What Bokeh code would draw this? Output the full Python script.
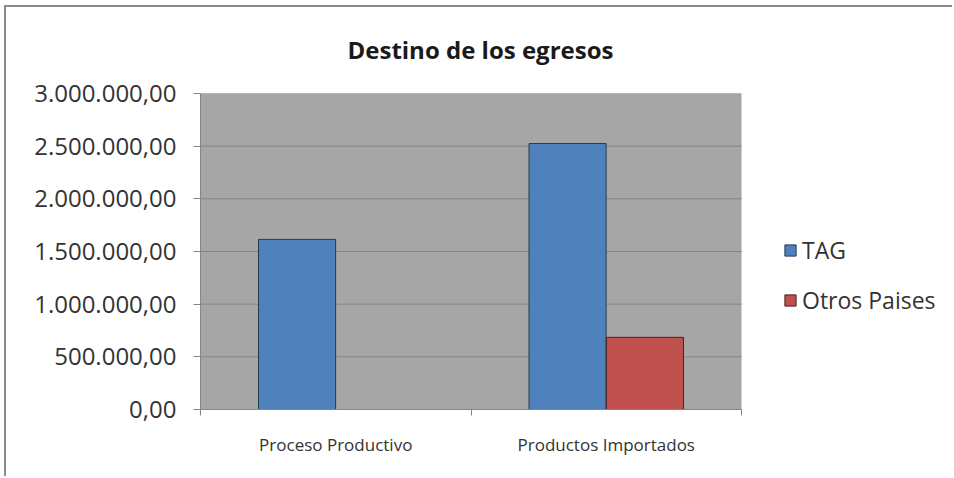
from bokeh.plotting import figure
from bokeh.models import (FixedTicker, Legend, LegendItem, ColumnDataSource,
                          Range1d, CDSView, BooleanFilter, BoxAnnotation)
from bokeh.transform import dodge
from bokeh.embed import file_html
from bokeh.resources import INLINE

title_text = "Destino de los egresos"
categories = ["Proceso Productivo", "Productos Importados"]
series_names = ["TAG", "Otros Paises"]
tag_values = [1615000, 2525000]
otros_values = [0, 685000]
y_ticks = [0, 500000, 1000000, 1500000, 2000000, 2500000, 3000000]
y_tick_labels = ["0,00", "500.000,00", "1.000.000,00", "1.500.000,00",
                 "2.000.000,00", "2.500.000,00", "3.000.000,00"]

FONT = "Open Sans"
PLOT_W = 541      # width of the grey plot area (px)
FRAME_W = 754     # width of the drawing frame, which also hosts the legend
n = len(categories)
x_idx = [i + 0.5 for i in range(n)]
y_max = y_ticks[-1]
source = ColumnDataSource(dict(x=x_idx, tag=tag_values, otros=otros_values))
grid_src = ColumnDataSource(dict(y=y_ticks))

p = figure(width=948, height=471, output_backend="svg", toolbar_location=None,
           x_range=Range1d(0, n * FRAME_W / PLOT_W), y_range=Range1d(0, y_max),
           min_border_left=194, min_border_right=0, min_border_top=86,
           min_border_bottom=69)
p.margin = (5, 0, 0, 4)
p.styles = {"border-top": "2px solid #8c8c8c", "border-left": "2px solid #8c8c8c"}

p.background_fill_color = "white"
p.border_fill_color = "white"
p.outline_line_color = None

# grey plot area
p.add_layout(BoxAnnotation(left=0, right=n, bottom=0, top=y_max,
                           fill_color="#a6a6a6", fill_alpha=1, line_color=None,
                           level="underlay"))
# horizontal gridlines
p.segment(x0=0, x1=n, y0="y", y1="y", source=grid_src,
          line_color="#858585", line_width=1)

r1 = p.vbar(x=dodge("x", -0.143, range=p.x_range), top="tag", width=0.285,
            source=source, fill_color="#4f81bd", line_color="#263a52", line_width=1)
view = CDSView(filter=BooleanFilter([v > 0 for v in otros_values]))
r2 = p.vbar(x=dodge("x", 0.143, range=p.x_range), top="otros", width=0.285,
            source=source, view=view, fill_color="#c0504d", line_color="#4a2020",
            line_width=1)

# Title
p.title.text = title_text
p.title.text_font = FONT
p.title.text_font_size = "24px"
p.title.text_font_style = "bold"
p.title.text_color = "#1a1a1a"
p.title.align = "left"
p.title.offset = 147
p.title.vertical_align = "top"
p.title.standoff = 51

# Y axis
yax = p.yaxis[0]
yax.ticker = FixedTicker(ticks=y_ticks)
yax.major_label_overrides = {t: l for t, l in zip(y_ticks, y_tick_labels)}
yax.major_label_text_font = FONT
yax.major_label_text_font_size = "24px"
yax.major_label_text_color = "#333333"
yax.axis_line_color = "#868686"
yax.major_tick_line_color = "#868686"
yax.major_tick_out = 7
yax.major_tick_in = 0
yax.minor_tick_line_color = None
yax.major_label_standoff = 17

# X axis
xax = p.xaxis[0]
xax.bounds = (0, n)
xax.ticker = FixedTicker(ticks=x_idx, minor_ticks=list(range(n + 1)))
xax.major_label_overrides = {t: l for t, l in zip(x_idx, categories)}
xax.major_label_text_font = FONT
xax.major_label_text_font_size = "17px"
xax.major_label_text_color = "#333333"
xax.axis_line_color = "#868686"
xax.major_tick_line_color = None
xax.major_tick_out = 0
xax.major_tick_in = 0
xax.minor_tick_line_color = "#868686"
xax.minor_tick_out = 6
xax.minor_tick_in = 0
xax.major_label_standoff = 17

p.xgrid.visible = False
p.ygrid.visible = False

legend = Legend(items=[LegendItem(label=series_names[0], renderers=[r1]),
                       LegendItem(label=series_names[1], renderers=[r2])],
                location=(583, 93), orientation="vertical")
legend.margin = 0
legend.padding = 0
legend.background_fill_alpha = 0
legend.border_line_color = None
legend.label_text_font = FONT
legend.label_text_font_size = "23px"
legend.label_text_color = "#333333"
legend.glyph_width = 14
legend.glyph_height = 14
legend.label_standoff = 5
legend.label_height = 20
legend.spacing = 18
p.add_layout(legend, "center")

open("out.html", "w").write(file_html(p, INLINE))
